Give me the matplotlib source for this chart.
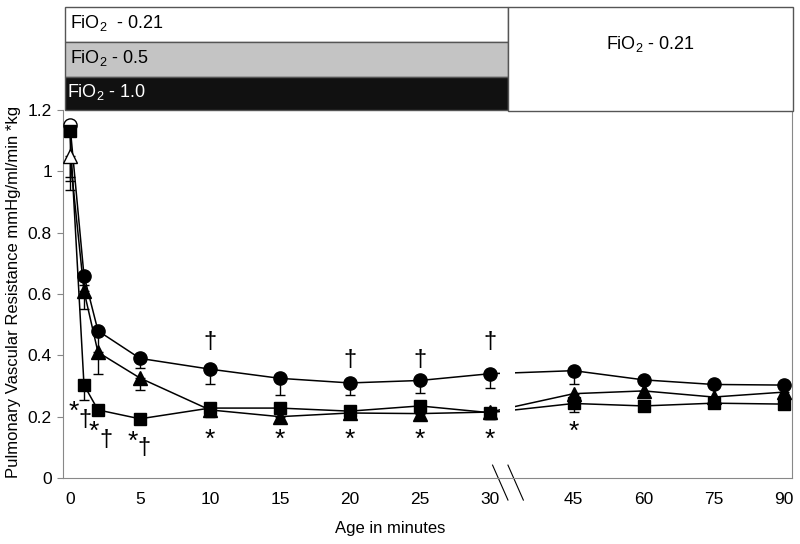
import numpy as np
import matplotlib.pyplot as plt
from matplotlib.patches import Rectangle

plt.rcParams['font.family'] = ['Liberation Sans', 'DejaVu Sans']
plt.rcParams['mathtext.fontset'] = 'custom'
plt.rcParams['mathtext.rm'] = 'Liberation Sans'
plt.rcParams['mathtext.it'] = 'Liberation Sans:italic'

# sample times (minutes)
minutes = [0, 1, 2, 5, 10, 15, 20, 25, 30, 45, 60, 75, 90]

# circles
pvr_circle = [1.15, 0.66, 0.48, 0.39, 0.355, 0.325, 0.31, 0.318, 0.34, 0.35, 0.32, 0.305, 0.303]
err_circle = [0.17, 0.03, 0.09, 0.03, 0.05, 0.055, 0.04, 0.04, 0.045, 0.045, 0.01, 0.01, 0.01]
# triangles
pvr_triangle = [1.05, 0.61, 0.41, 0.326, 0.222, 0.20, 0.212, 0.21, 0.215, 0.275, 0.284, 0.264, 0.28]
err_triangle = [0.11, 0.06, 0.07, 0.04, 0.02, 0.015, 0.015, 0.02, 0.015, 0.02, 0.02, 0.015, 0.02]
# squares
pvr_square = [1.13, 0.303, 0.222, 0.193, 0.228, 0.228, 0.218, 0.235, 0.213, 0.243, 0.235, 0.244, 0.241]
err_square = [0.16, 0.05, 0.01, 0.01, 0.03, 0.01, 0.015, 0.01, 0.02, 0.027, 0.01, 0.01, 0.01]

tick_minutes = [0, 5, 10, 15, 20, 25, 30, 45, 60, 75, 90]
y_ticks = [0, 0.2, 0.4, 0.6, 0.8, 1.0, 1.2]
y_ticklabels = ['0', '0.2', '0.4', '0.6', '0.8', '1', '1.2']

# significance marks (position in minutes, value)
star_min = [0.3, 1.7, 4.5, 10, 15, 20, 25, 30, 45]
star_val = [0.215, 0.15, 0.118, 0.125, 0.125, 0.125, 0.125, 0.125, 0.152]
dagger_min = [1.1, 2.6, 5.3, 10, 20, 25, 30]
dagger_val = [0.19, 0.124, 0.098, 0.443, 0.385, 0.385, 0.443]


def xpos(t):
    # broken axis: linear up to 30, compressed after the break
    t = np.asarray(t, float)
    return np.where(t <= 30, t, 36 + (t - 45) / 3.0)


fig = plt.figure(figsize=(8, 5.44), dpi=100)
ax = fig.add_axes([63 / 800, 66 / 544, 729 / 800, 368 / 544])

x = xpos(minutes)
series = [
    (pvr_circle, err_circle, 'o', 9.5, 'white'),
    (pvr_triangle, err_triangle, '^', 9.5, 'white'),
    (pvr_square, err_square, 's', 8.5, 'black'),
]
for vals, errs, mk, ms, first_fc in series:
    vals = np.array(vals)
    errs = np.array(errs)
    ax.errorbar(x, vals, yerr=[errs, np.zeros_like(errs)], fmt='none',
                ecolor='black', elinewidth=1, capsize=3.5, capthick=1, zorder=2)
    ax.plot(x, vals, '-', color='black', lw=1.1, zorder=3)
    ax.plot(x[1:], vals[1:], mk, ms=ms, mfc='black', mec='black', ls='none', zorder=5)
    ax.plot(x[:1], vals[:1], mk, ms=ms, mfc=first_fc, mec='black', mew=1, ls='none', zorder=5)

# gap in the lines at the axis break
ax.add_patch(Rectangle((30.7, 0.15), 1.1, 0.3, facecolor='white', edgecolor='none', zorder=4))
ax.plot([30.2, 31.3], [0.042, -0.072], color='black', lw=0.8, clip_on=False)
ax.plot([31.3, 32.4], [0.042, -0.072], color='black', lw=0.8, clip_on=False)

for m, v in zip(star_min, star_val):
    ax.text(xpos(m), v, '*', ha='center', va='center', fontsize=19, color='black')
for m, v in zip(dagger_min, dagger_val):
    ax.text(xpos(m), v, '\u2020', ha='center', va='center', fontsize=17, color='black')

ax.set_xlim(-0.5, 51.6)
ax.set_ylim(0, 1.2)
ax.set_xticks(xpos(tick_minutes))
ax.set_xticklabels([str(t) for t in tick_minutes], fontsize=12.5)
ax.set_yticks(y_ticks)
ax.set_yticklabels(y_ticklabels, fontsize=12.5)
ax.tick_params(axis='x', length=0, pad=10)
ax.tick_params(axis='y', length=4, pad=4, color='#888888')
ax.spines['top'].set_visible(False)
for s in ['left', 'right', 'bottom']:
    ax.spines[s].set_color('#888888')

fig.text(14 / 800, (544 - 292) / 544, 'Pulmonary Vascular Resistance mmHg/ml/min *kg',
         rotation=90, ha='center', va='center', fontsize=12)
fig.text(390 / 800, (544 - 528) / 544, 'Age in minutes', ha='center', va='center', fontsize=12)


def fbox(x0, y0, x1, y1, fc):
    fig.add_artist(Rectangle((x0 / 800, (544 - y1) / 544), (x1 - x0) / 800, (y1 - y0) / 544,
                             transform=fig.transFigure, facecolor=fc,
                             edgecolor='#555555', lw=1))


fbox(65, 7, 508, 42, 'white')
fbox(65, 42, 508, 77, '#c4c4c4')
fbox(65, 77, 508, 110, '#111111')
fbox(508, 7, 793, 111, 'white')

fig.text(70 / 800, (544 - 23) / 544, r'FiO$_2$  - 0.21', va='center', fontsize=13)
fig.text(70 / 800, (544 - 58) / 544, r'FiO$_2$ - 0.5', va='center', fontsize=13)
fig.text(67 / 800, (544 - 92) / 544, r'FiO$_2$ - 1.0', va='center', fontsize=13, color='white')
fig.text(650 / 800, (544 - 44) / 544, r'FiO$_2$ - 0.21', ha='center', va='center', fontsize=13)

fig.savefig('out.png', dpi=100)
